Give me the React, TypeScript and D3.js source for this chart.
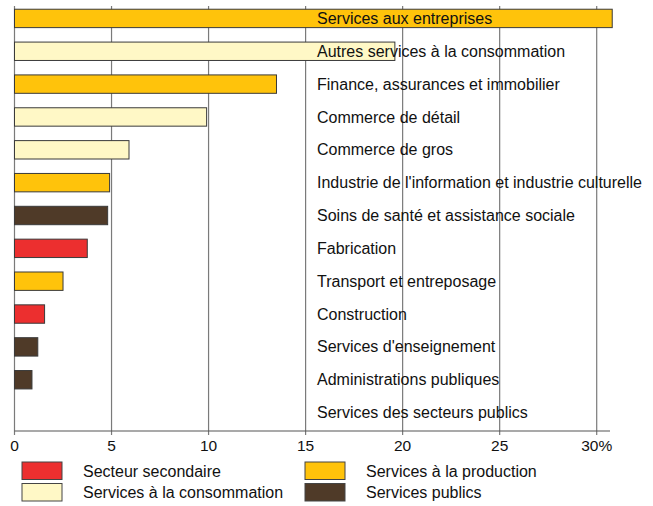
import React from "react";
import * as d3 from "d3";

const categories = [
  "Services aux entreprises",
  "Autres services à la consommation",
  "Finance, assurances et immobilier",
  "Commerce de détail",
  "Commerce de gros",
  "Industrie de l'information et industrie culturelle",
  "Soins de santé et assistance sociale",
  "Fabrication",
  "Transport et entreposage",
  "Construction",
  "Services d'enseignement",
  "Administrations publiques",
  "Services des secteurs publics",
];
const values = [30.8, 19.6, 13.5, 9.9, 5.9, 4.9, 4.8, 3.75, 2.5, 1.55, 1.2, 0.9, 0];
const groups = [
  "prod", "cons", "prod", "cons", "cons", "prod", "pub", "sec", "prod", "sec", "pub", "pub", "pub",
];
const legendKeys = ["sec", "prod", "cons", "pub"];
const legendLabels = [
  "Secteur secondaire",
  "Services à la production",
  "Services à la consommation",
  "Services publics",
];
const xTicks = [0, 5, 10, 15, 20, 25, 30];

const colors: Record<string, string> = {
  sec: "#EC2F2F",
  prod: "#FFC30B",
  cons: "#FFF8C6",
  pub: "#4F3A28",
};

export default function App() {
  const W = 653, H = 506;
  const x = d3.scaleLinear().domain([0, 30]).range([14.5, 596.7]);
  const y = d3.scaleBand<string>().domain(categories).range([2, 429]).paddingInner(0.44).paddingOuter(0.22);
  const axisY = 431;
  const gridTop = 6;
  const font = "'Liberation Sans', Arial, sans-serif";

  const legendPos = [
    { sx: 22, ty: 0 },
    { sx: 305, ty: 0 },
    { sx: 22, ty: 1 },
    { sx: 305, ty: 1 },
  ];

  return (
    <svg width={W} height={H} style={{ position: "absolute", left: 0, top: 0, display: "block" }} fontFamily={font}>
      <rect x={0} y={0} width={W} height={H} fill="#fff" />
      {xTicks.map((t) => (
        <line key={"g" + t} x1={x(t)} x2={x(t)} y1={gridTop} y2={axisY + 4} stroke="#7a7a7a" strokeWidth={1.2} />
      ))}
      <line x1={x(0)} x2={610} y1={axisY} y2={axisY} stroke="#555" strokeWidth={1.2} />
      {categories.map((c, i) => (
        values[i] > 0 ? (
          <rect
            key={"b" + c}
            x={x(0)}
            y={y(c)}
            width={x(values[i]) - x(0)}
            height={y.bandwidth()}
            fill={colors[groups[i]]}
            stroke="#3a3a3a"
            strokeWidth={1}
          />
        ) : null
      ))}
      {categories.map((c) => (
        <text key={"l" + c} x={317} y={(y(c) as number) + y.bandwidth() / 2} dy="0.35em" fontSize={16} fill="#111">
          {c}
        </text>
      ))}
      {xTicks.map((t) => (
        <text key={"t" + t} x={x(t)} y={446} dy="0.35em" textAnchor="middle" fontSize={15.5} fill="#111">
          {t === 30 ? "30%" : String(t)}
        </text>
      ))}
      {legendKeys.map((k, i) => {
        const p = legendPos[i];
        const top = 462 + p.ty * 21.5;
        return (
          <g key={"lg" + k}>
            <rect x={p.sx} y={top} width={40} height={17.5} fill={colors[k]} stroke="#444" strokeWidth={1} />
            <text x={p.sx + 61} y={top + 9} dy="0.35em" fontSize={16} fill="#111">
              {legendLabels[i]}
            </text>
          </g>
        );
      })}
    </svg>
  );
}
